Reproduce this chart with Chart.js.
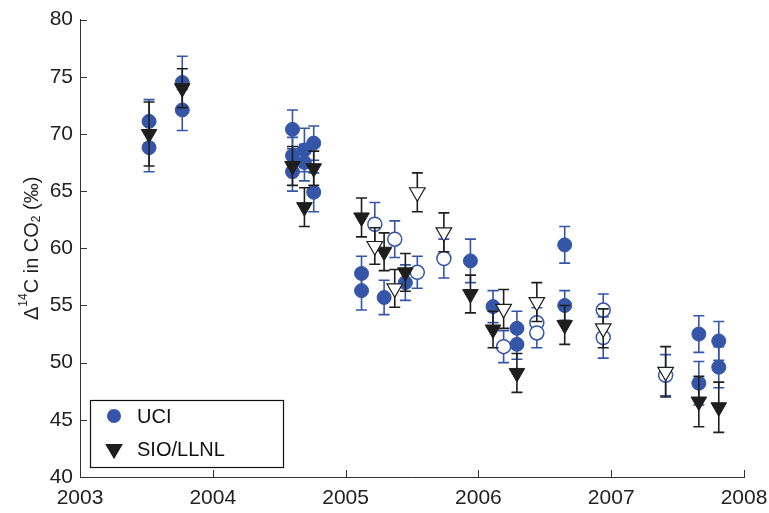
<!DOCTYPE html>
<html>
<head>
<meta charset="utf-8">
<script src="https://cdn.jsdelivr.net/npm/chart.js@4/dist/chart.umd.min.js"></script>
<style>
  html, body { margin: 0; padding: 0; background: #fff; }
  #wrap { width: 769px; height: 513px; position: relative; }
</style>
</head>
<body>
<div id="wrap"><canvas id="myChart" width="769" height="513"></canvas></div>
<script>
// UCI measurements (filled = one site set, open = the other)
const uciYears = [2003.52, 2003.52, 2003.77, 2003.77, 2004.60, 2004.60, 2004.60, 2004.69, 2004.69, 2004.76, 2004.76,
    2005.12, 2005.12, 2005.29, 2005.45, 2005.94, 2006.11, 2006.29, 2006.29, 2006.65, 2006.65, 2007.66, 2007.66, 2007.81, 2007.81];
const uciValues = [71.1, 68.8, 74.5, 72.1, 70.4, 68.1, 66.7, 68.6, 67.5, 69.2, 64.9,
    57.8, 56.3, 55.7, 57.0, 58.9, 54.9, 53.0, 51.6, 60.3, 55.0, 52.5, 48.2, 51.9, 49.6];
const uciErrors = [1.9, 2.1, 2.3, 1.8, 1.7, 1.6, 1.7, 1.9, 1.6, 1.5, 1.7,
    1.5, 1.7, 1.5, 1.55, 1.9, 1.4, 1.5, 1.3, 1.6, 1.3, 1.6, 1.9, 1.7, 1.8];

const uciOpenYears = [2005.22, 2005.37, 2005.54, 2005.74, 2006.19, 2006.44, 2006.44, 2006.94, 2006.94, 2007.41];
const uciOpenValues = [62.1, 60.8, 57.9, 59.1, 51.4, 53.5, 52.6, 54.6, 52.2, 48.9];
const uciOpenErrors = [1.9, 1.6, 1.4, 1.7, 1.4, 1.3, 1.3, 1.4, 1.8, 1.8];

// SIO/LLNL measurements
const sioYears = [2003.52, 2003.77, 2004.60, 2004.69, 2004.76, 2005.12, 2005.29, 2005.45, 2005.94, 2006.11, 2006.29, 2006.65, 2007.66, 2007.81];
const sioValues = [70.0, 74.0, 67.2, 63.6, 67.0, 62.7, 59.7, 57.9, 56.0, 52.9, 49.1, 53.3, 46.6, 46.1];
const sioErrors = [2.8, 1.7, 1.7, 1.7, 1.5, 1.7, 1.65, 1.65, 1.65, 1.6, 1.7, 1.7, 2.2, 2.2];

const sioOpenYears = [2005.22, 2005.37, 2005.54, 2005.74, 2006.19, 2006.44, 2006.94, 2007.41];
const sioOpenValues = [60.2, 56.5, 64.9, 61.4, 54.7, 55.3, 53.0, 49.2];
const sioOpenErrors = [1.6, 1.65, 1.7, 1.7, 1.7, 1.7, 1.7, 2.2];

const blue = '#3556a8';
const dark = '#1e1e1e';
const font = '"Liberation Sans", Arial, sans-serif';

function toPoints(xs, ys) {
    return xs.map((x, i) => ({ x: x, y: ys[i] }));
}

// error bars drawn just before each dataset's markers
const errorBars = {
    id: 'errorBars',
    beforeDatasetDraw(chart, args) {
        const ds = chart.data.datasets[args.index];
        if (!ds.errors) return;
        const yScale = chart.scales.y;
        const c = chart.ctx;
        c.save();
        c.strokeStyle = ds.errColor;
        c.lineWidth = 1.6;
        args.meta.data.forEach((pt, i) => {
            const v = ds.data[i].y;
            const e = ds.errors[i];
            const top = yScale.getPixelForValue(v + e);
            const bot = yScale.getPixelForValue(v - e);
            c.beginPath();
            c.moveTo(pt.x, top); c.lineTo(pt.x, bot);
            c.moveTo(pt.x - 5.5, top); c.lineTo(pt.x + 5.5, top);
            c.moveTo(pt.x - 5.5, bot); c.lineTo(pt.x + 5.5, bot);
            c.stroke();
        });
        c.restore();
    }
};

// inward ticks, y title and legend box
const decorations = {
    id: 'decorations',
    afterDraw(chart) {
        const c = chart.ctx;
        const area = chart.chartArea;
        const xs = chart.scales.x, ys = chart.scales.y;
        c.save();
        c.strokeStyle = '#333';
        c.lineWidth = 1;
        xs.ticks.forEach(t => {
            const px = Math.round(xs.getPixelForValue(t.value)) + 0.5;
            c.beginPath(); c.moveTo(px, area.bottom); c.lineTo(px, area.bottom - 7); c.stroke();
        });
        ys.ticks.forEach(t => {
            const py = Math.round(ys.getPixelForValue(t.value)) + 0.5;
            c.beginPath(); c.moveTo(area.left, py); c.lineTo(area.left + 7, py); c.stroke();
        });

        // y axis title
        c.fillStyle = '#222';
        c.translate(32, (area.top + area.bottom) / 2);
        c.rotate(-Math.PI / 2);
        const parts = [
            { t: '\u0394', size: 20, dy: 0 },
            { t: '14', size: 12, dy: -8 },
            { t: 'C in CO', size: 20, dy: 0 },
            { t: '2', size: 12, dy: 5 },
            { t: ' (\u2030)', size: 20, dy: 0 }
        ];
        let total = 0;
        parts.forEach(p => { c.font = p.size + 'px ' + font; total += c.measureText(p.t).width; });
        let x = -total / 2;
        c.textBaseline = 'middle';
        parts.forEach(p => {
            c.font = p.size + 'px ' + font;
            c.fillText(p.t, x, p.dy);
            x += c.measureText(p.t).width;
        });
        c.restore();

        // legend
        c.save();
        const lx = area.left + 10, lyb = area.bottom - 10;
        const lw = 193, lh = 67;
        c.fillStyle = '#fff';
        c.fillRect(lx, lyb - lh, lw, lh);
        c.strokeStyle = '#111';
        c.lineWidth = 1.2;
        c.strokeRect(lx + 0.5, lyb - lh + 0.5, lw, lh);
        c.fillStyle = blue; c.strokeStyle = blue;
        c.beginPath(); c.arc(lx + 24, lyb - lh + 16, 7, 0, Math.PI * 2); c.fill();
        c.fillStyle = dark; c.strokeStyle = dark;
        Chart.helpers.drawPoint(c, { pointStyle: 'triangle', radius: 9, rotation: 180, borderWidth: 1 }, lx + 24, lyb - lh + 49);
        c.fill();
        c.fillStyle = '#111';
        c.font = '20px ' + font;
        c.textBaseline = 'middle';
        c.fillText('UCI', lx + 47, lyb - lh + 17);
        c.fillText('SIO/LLNL', lx + 47, lyb - lh + 50);
        c.restore();
    }
};

const ctx = document.getElementById('myChart');
new Chart(ctx, {
    type: 'scatter',
    plugins: [errorBars, decorations],
    data: {
        datasets: [
            {
                label: 'UCI',
                data: toPoints(uciYears, uciValues),
                errors: uciErrors, errColor: blue,
                order: 3,
                pointStyle: 'circle', pointRadius: 7,
                backgroundColor: blue, borderColor: blue, borderWidth: 1
            },
            {
                label: 'UCI (open)',
                data: toPoints(uciOpenYears, uciOpenValues),
                errors: uciOpenErrors, errColor: blue,
                order: 2,
                pointStyle: 'circle', pointRadius: 7,
                backgroundColor: '#fff', borderColor: blue, borderWidth: 1.5
            },
            {
                label: 'SIO/LLNL',
                data: toPoints(sioYears, sioValues),
                errors: sioErrors, errColor: dark,
                order: 1,
                pointStyle: 'triangle', rotation: 180, pointRadius: 9,
                backgroundColor: dark, borderColor: dark, borderWidth: 1
            },
            {
                label: 'SIO/LLNL (open)',
                data: toPoints(sioOpenYears, sioOpenValues),
                errors: sioOpenErrors, errColor: dark,
                order: 0,
                pointStyle: 'triangle', rotation: 180, pointRadius: 9,
                backgroundColor: '#fff', borderColor: dark, borderWidth: 1.2
            }
        ]
    },
    options: {
        responsive: false,
        animation: false,
        layout: { padding: { top: 16, right: 25, left: 0, bottom: 0 } },
        plugins: {
            legend: { display: false },
            tooltip: { enabled: false }
        },
        scales: {
            x: {
                type: 'linear',
                min: 2003, max: 2008,
                grid: { display: false, drawTicks: false },
                border: { display: true, color: '#333', width: 1 },
                ticks: {
                    stepSize: 1, padding: 9, color: '#222',
                    font: { family: font, size: 21 },
                    callback: v => String(v)
                },
                afterFit: s => { s.height = 36; s.paddingLeft = 0; s.paddingRight = 0; }
            },
            y: {
                min: 40, max: 80,
                grid: { display: false, drawTicks: false },
                border: { display: true, color: '#333', width: 1 },
                ticks: {
                    stepSize: 5, padding: 7, color: '#222',
                    font: { family: font, size: 21 }
                },
                afterFit: s => { s.width = 80; }
            }
        }
    }
});
</script>
</body>
</html>
